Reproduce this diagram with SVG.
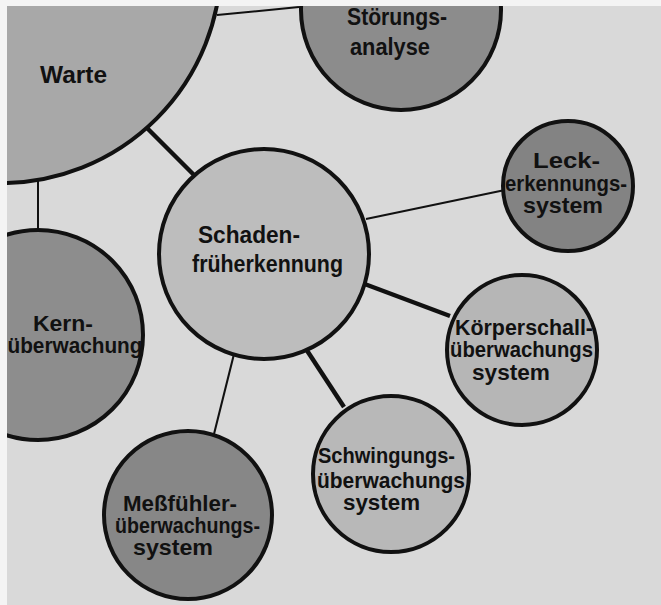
<svg xmlns="http://www.w3.org/2000/svg" width="661" height="605" viewBox="0 0 661 605">
  <defs>
    <clipPath id="sheet">
      <rect x="7" y="6" width="654" height="599"/>
    </clipPath>
    <style>
      .node { stroke: #111; stroke-width: 4; }
      .lbl { font-family: "Liberation Sans", Arial, sans-serif; font-weight: bold; font-size: 22px; fill: #111; text-anchor: middle; }
      .big { font-size: 24px; }
      .link-thick { stroke: #111; stroke-width: 4.5; fill: none; }
      .link-thin { stroke: #111; stroke-width: 2; fill: none; }
    </style>
  </defs>

  <rect x="0" y="0" width="661" height="605" fill="#f4f4f4"/>

  <g clip-path="url(#sheet)">
    <rect x="0" y="0" width="661" height="605" fill="#d9d9d9"/>

    <!-- connectors -->
    <g id="connectors">
      <line class="link-thin" x1="217" y1="15" x2="299" y2="7"/>
      <line class="link-thick" x1="146" y1="127" x2="195" y2="176"/>
      <line class="link-thin" x1="38" y1="180" x2="38" y2="232"/>
      <line class="link-thin" x1="366" y1="219" x2="505" y2="190"/>
      <line class="link-thick" x1="362" y1="283" x2="450" y2="316"/>
      <line class="link-thick" x1="306" y1="349" x2="344" y2="407"/>
      <line class="link-thin" x1="234" y1="354" x2="214" y2="434"/>
    </g>

    <!-- Warte -->
    <g id="warte">
      <circle class="node" cx="1" cy="-37" r="220" fill="#a8a8a8"/>
      <text class="lbl big" x="73.5" y="83" font-size="25" textLength="67" lengthAdjust="spacingAndGlyphs">Warte</text>
    </g>

    <!-- Störungsanalyse -->
    <g id="stoerungsanalyse">
      <circle class="node" cx="401" cy="10" r="100" fill="#8c8c8c"/>
      <text class="lbl big" x="397" y="25" textLength="100" lengthAdjust="spacingAndGlyphs">Störungs-</text>
      <text class="lbl big" x="390" y="55" textLength="80" lengthAdjust="spacingAndGlyphs">analyse</text>
    </g>

    <!-- Schadenfrüherkennung -->
    <g id="schadenfrueherkennung">
      <circle class="node" cx="264" cy="254" r="105" fill="#bdbdbd"/>
      <text class="lbl big" x="249" y="243" textLength="102" lengthAdjust="spacingAndGlyphs">Schaden-</text>
      <text class="lbl big" x="267.5" y="272" textLength="151" lengthAdjust="spacingAndGlyphs">früherkennung</text>
    </g>

    <!-- Leckerkennungssystem -->
    <g id="leckerkennungssystem">
      <circle class="node" cx="568" cy="186" r="65" fill="#838383"/>
      <text class="lbl" x="566.5" y="168" textLength="67" lengthAdjust="spacingAndGlyphs">Leck-</text>
      <text class="lbl" x="566" y="191" textLength="122" lengthAdjust="spacingAndGlyphs">erkennungs-</text>
      <text class="lbl" x="563" y="213" textLength="80" lengthAdjust="spacingAndGlyphs">system</text>
    </g>

    <!-- Körperschallüberwachungssystem -->
    <g id="koerperschall">
      <circle class="node" cx="522" cy="350" r="75" fill="#b6b6b6"/>
      <text class="lbl" x="524" y="335" textLength="138" lengthAdjust="spacingAndGlyphs">Körperschall-</text>
      <text class="lbl" x="521.5" y="357" textLength="143" lengthAdjust="spacingAndGlyphs">überwachungs</text>
      <text class="lbl" x="511" y="380" textLength="78" lengthAdjust="spacingAndGlyphs">system</text>
    </g>

    <!-- Schwingungsüberwachungssystem -->
    <g id="schwingung">
      <circle class="node" cx="391" cy="474" r="78" fill="#b8b8b8"/>
      <text class="lbl" x="386.5" y="463" textLength="137" lengthAdjust="spacingAndGlyphs">Schwingungs-</text>
      <text class="lbl" x="391" y="488" textLength="148" lengthAdjust="spacingAndGlyphs">überwachungs</text>
      <text class="lbl" x="381.5" y="510" textLength="77" lengthAdjust="spacingAndGlyphs">system</text>
    </g>

    <!-- Meßfühlerüberwachungssystem -->
    <g id="messfuehler">
      <circle class="node" cx="188" cy="515" r="84" fill="#878787"/>
      <text class="lbl" x="180" y="511" textLength="114" lengthAdjust="spacingAndGlyphs">Meßfühler-</text>
      <text class="lbl" x="187.5" y="533" textLength="145" lengthAdjust="spacingAndGlyphs">überwachungs-</text>
      <text class="lbl" x="173" y="555" textLength="80" lengthAdjust="spacingAndGlyphs">system</text>
    </g>

    <!-- Kernüberwachung -->
    <g id="kernueberwachung">
      <circle class="node" cx="38" cy="335" r="105" fill="#8d8d8d"/>
      <text class="lbl" x="63" y="331" textLength="60" lengthAdjust="spacingAndGlyphs">Kern-</text>
      <text class="lbl" x="75" y="353" textLength="135" lengthAdjust="spacingAndGlyphs">überwachung</text>
    </g>
  </g>
</svg>
